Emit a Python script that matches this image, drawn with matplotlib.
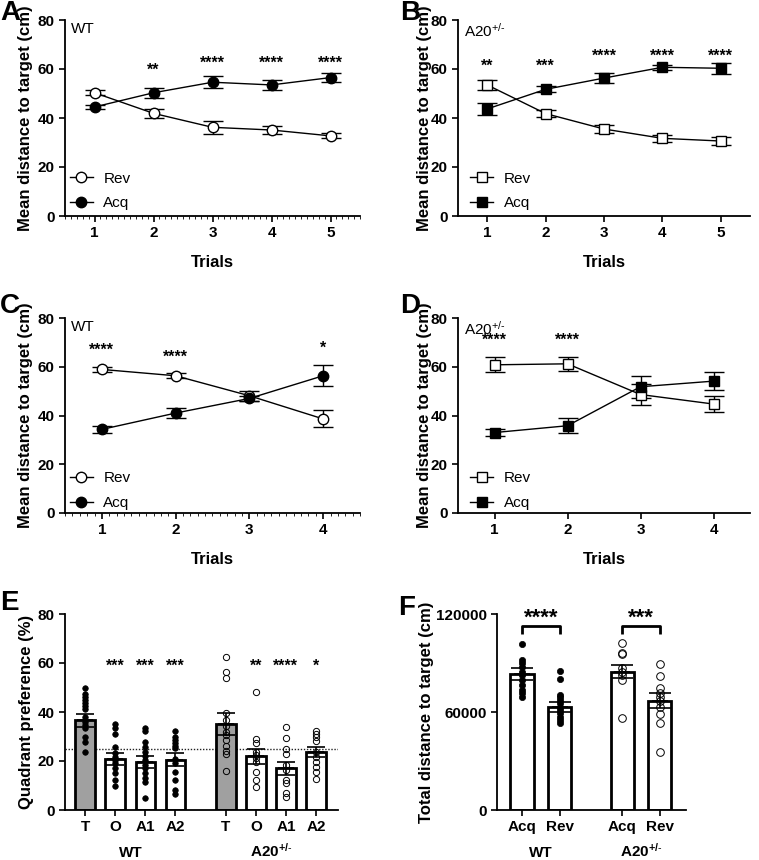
import matplotlib
matplotlib.use("Agg")
import matplotlib.pyplot as plt
import numpy as np

plt.rcParams['font.family'] = ['Liberation Sans', 'DejaVu Sans']
plt.rcParams['mathtext.fontset'] = 'custom'
plt.rcParams['mathtext.rm'] = 'Liberation Sans'
plt.rcParams['mathtext.bf'] = 'Liberation Sans:bold'
plt.rcParams['mathtext.it'] = 'Liberation Sans:italic'

# ---------------- data ----------------
trials5 = [1, 2, 3, 4, 5]
trials4 = [1, 2, 3, 4]

A_rev = [50.3, 41.9, 36.2, 35.1, 32.7]
A_rev_err = [1.0, 1.8, 2.6, 1.5, 1.0]
A_acq = [44.5, 50.3, 54.6, 53.5, 56.5]
A_acq_err = [1.0, 2.0, 2.5, 2.0, 1.8]
A_stars = ['', '**', '****', '****', '****']
A_star_y = [0, 59.6, 62.3, 62.3, 62.3]

B_rev = [53.5, 41.8, 35.5, 31.7, 30.6]
B_rev_err = [2.0, 1.5, 1.5, 1.5, 1.5]
B_acq = [43.7, 51.7, 56.3, 60.7, 60.3]
B_acq_err = [2.5, 1.2, 2.2, 1.0, 2.2]
B_stars = ['**', '***', '****', '****', '****']
B_star_y = [61.0, 61.0, 65.3, 65.3, 65.3]

C_rev = [58.9, 56.3, 48.1, 38.6]
C_rev_err = [1.0, 1.0, 2.0, 3.5]
C_acq = [34.3, 41.0, 47.0, 56.3]
C_acq_err = [1.5, 2.0, 1.0, 4.3]
C_stars = ['****', '****', '', '*']
C_star_y = [66.8, 63.8, 0, 67.5]

D_rev = [60.8, 61.2, 48.6, 44.7]
D_rev_err = [3.0, 3.0, 4.2, 3.3]
D_acq = [33.0, 35.8, 51.8, 54.1]
D_acq_err = [1.5, 3.0, 4.6, 3.6]
D_stars = ['****', '****', '', '']
D_star_y = [70.8, 70.8, 0, 0]

E_labels = ['T', 'O', 'A1', 'A2']
E_wt_mean = [36.6, 20.8, 19.5, 20.5]
E_wt_sem = [2.6, 2.6, 2.5, 2.6]
E_a20_mean = [35.1, 21.9, 17.0, 23.7]
E_a20_sem = [4.4, 3.0, 2.7, 2.2]
E_wt_pts = [
    [49.7, 47.3, 46.0, 44.9, 43.5, 42.4, 41.2, 38.1, 36.0, 34.7, 33.3, 29.9, 27.9, 23.5],
    [35.1, 33.3, 31.0, 25.8, 23.1, 21.5, 20.5, 19.0, 17.0, 15.0, 12.2, 9.8],
    [33.3, 32.2, 27.9, 25.8, 23.8, 22.0, 20.4, 18.4, 17.0, 15.0, 13.0, 11.6, 4.8],
    [32.2, 29.9, 28.6, 27.5, 26.3, 25.2, 21.0, 19.0, 15.6, 12.2, 8.2, 6.5],
]
E_a20_pts = [
    [62.6, 56.4, 54.0, 39.4, 36.7, 34.3, 32.0, 30.6, 28.6, 26.3, 24.2, 22.9, 15.9],
    [48.3, 28.8, 27.5, 23.8, 22.4, 21.1, 19.7, 15.4, 12.2, 9.3],
    [33.7, 29.5, 24.8, 22.8, 18.4, 16.3, 12.2, 10.9, 6.8, 5.4],
    [32.4, 31.0, 29.7, 28.3, 23.8, 21.8, 19.7, 17.7, 15.6, 12.7],
]
E_wt_stars = ['', '***', '***', '***']
E_a20_stars = ['', '**', '****', '*']
E_chance = 25

F_conds = ['Acq', 'Rev']
F_wt_mean = [83100, 63200]
F_wt_sem = [3700, 3000]
F_a20_mean = [84700, 66900]
F_a20_sem = [3900, 4500]
F_wt_pts = [
    [101440, 91837, 89796, 87755, 84694, 82653, 79592, 76531, 73469, 71429, 69388],
    [85306, 80204, 70408, 68980, 67347, 65306, 63265, 61224, 59184, 57143, 55102, 53061],
]
F_a20_pts = [
    [102041, 96327, 95306, 86735, 84694, 82653, 79592, 56122],
    [89184, 82245, 74490, 71837, 69388, 66735, 63265, 58571, 53469, 35306],
]
F_stars = ['****', '***']

A20_TXT = 'A20$^{+/\\text{-}}$'

# ---------------- figure ----------------
W, H = 759, 860
fig = plt.figure(figsize=(W / 100, H / 100), dpi=100)


def add_ax(l, r, t, b):
    return fig.add_axes([l / W, 1 - b / H, (r - l) / W, (b - t) / H])


def style(ax):
    for s in ['top', 'right']:
        ax.spines[s].set_visible(False)
    for s in ['left', 'bottom']:
        ax.spines[s].set_linewidth(1.3)
    ax.tick_params(axis='both', which='major', length=4, width=1.2,
                   labelsize=11, direction='out')
    for lab in ax.get_xticklabels() + ax.get_yticklabels():
        lab.set_fontweight('bold')


def line_panel(ax, x, rev, rev_err, acq, acq_err, stars, star_y, marker,
               title, xlim, minor, ylab_x, leg_x, leg_y):
    ax.errorbar(x, rev, yerr=rev_err, fmt='none', ecolor='black',
                elinewidth=1.0, capsize=7, capthick=1.0, zorder=2)
    ax.errorbar(x, acq, yerr=acq_err, fmt='none', ecolor='black',
                elinewidth=1.0, capsize=7, capthick=1.0, zorder=2)
    ax.plot(x, rev, color='black', lw=1.0, marker=marker, ms=7.5,
            mfc='white', mec='black', mew=1.0, zorder=3, label='Rev')
    ax.plot(x, acq, color='black', lw=1.0, marker=marker, ms=7.5,
            mfc='black', mec='black', mew=1.0, zorder=3, label='Acq')
    for xi, s, yy in zip(x, stars, star_y):
        if s:
            ax.text(xi, yy, s, ha='center', va='center', fontsize=11.5,
                    fontweight='bold')
    ax.set_ylim(0, 80)
    ax.set_yticks([0, 20, 40, 60, 80])
    ax.set_xlim(*xlim)
    ax.set_xticks(x)
    style(ax)
    if minor:
        ax.set_xticks(np.arange(xlim[0], xlim[1] + 0.001, 0.1), minor=True)
        ax.tick_params(axis='x', which='minor', length=2, width=0.6)
    ax.set_ylabel('Mean distance to target (cm)', fontsize=12,
                  fontweight='bold')
    ax.yaxis.set_label_coords(ylab_x, 0.5)
    ax.set_xlabel('Trials', fontsize=12, fontweight='bold')
    ax.xaxis.set_label_coords(0.5, -0.2)
    ax.text(0.02, 0.99, title, transform=ax.transAxes, ha='left',
            va='top', fontsize=11)
    ax.legend(loc='lower left', frameon=False, fontsize=11,
              handlelength=1.5, handletextpad=0.7,
              labelspacing=0.7, bbox_to_anchor=(leg_x, leg_y),
              borderaxespad=0.3)


axA = add_ax(65, 360, 20, 216)
line_panel(axA, trials5, A_rev, A_rev_err, A_acq, A_acq_err, A_stars,
           A_star_y, 'o', 'WT', (0.5, 5.5), True, -0.11, -0.02, -0.025)
axB = add_ax(458, 750, 20, 216)
line_panel(axB, trials5, B_rev, B_rev_err, B_acq, B_acq_err, B_stars,
           B_star_y, 's', A20_TXT, (0.5, 5.5), False, -0.09, 0.005, -0.025)
axC = add_ax(65, 360, 318, 513)
line_panel(axC, trials4, C_rev, C_rev_err, C_acq, C_acq_err, C_stars,
           C_star_y, 'o', 'WT', (0.5, 4.5), True, -0.11, -0.02, -0.04)
axD = add_ax(458, 750, 318, 513)
line_panel(axD, trials4, D_rev, D_rev_err, D_acq, D_acq_err, D_stars,
           D_star_y, 's', A20_TXT, (0.5, 4.5), False, -0.09, 0.005, -0.04)

# ---------------- panel E ----------------
axE = add_ax(65, 338, 614, 810)
gap = 4.67
posE_wt = np.arange(len(E_labels))
posE_a20 = posE_wt + gap
bw = 0.65
for pos, means, sems, pts, stars, filled in [
        (posE_wt, E_wt_mean, E_wt_sem, E_wt_pts, E_wt_stars, True),
        (posE_a20, E_a20_mean, E_a20_sem, E_a20_pts, E_a20_stars, False)]:
    colors = ['#a0a0a0'] + ['white'] * (len(means) - 1)
    axE.bar(pos, means, width=bw, color=colors, edgecolor='black',
            linewidth=2.0, zorder=2)
    for p, vals in zip(pos, pts):
        if filled:
            axE.plot([p] * len(vals), vals, 'o', ms=4, mfc='black',
                     mec='black', mew=0.5, zorder=3, ls='none')
        else:
            axE.plot([p] * len(vals), vals, 'o', ms=4.5, mfc='none',
                     mec='black', mew=0.7, zorder=3, ls='none')
    axE.errorbar(pos, means, yerr=sems, fmt='none', ecolor='black',
                 elinewidth=1.2, capsize=6.5, capthick=1.2, zorder=4)
    axE.plot(pos, means, ls='none', marker='_', ms=12, mew=1.2,
             color='black', zorder=4)
    for p, s in zip(pos, stars):
        if s:
            axE.text(p, 58.5, s, ha='center', va='center', fontsize=11.5,
                     fontweight='bold')
axE.axhline(E_chance, ls=(0, (1, 1.2)), color='#222222', lw=1.0, zorder=1)
axE.set_ylim(0, 80)
axE.set_yticks([0, 20, 40, 60, 80])
axE.set_xlim(-0.67, posE_a20[-1] + 0.73)
axE.set_xticks(list(posE_wt) + list(posE_a20))
axE.set_xticklabels(E_labels + E_labels)
style(axE)
axE.tick_params(axis='x', length=4, pad=3)
axE.set_ylabel('Quadrant preference (%)', fontsize=12, fontweight='bold')
axE.yaxis.set_label_coords(-0.115, 0.5)
axE.text(posE_wt.mean(), -0.24, 'WT', transform=axE.get_xaxis_transform(),
         ha='center', va='baseline', fontsize=11, fontweight='bold')
axE.text(posE_a20.mean(), -0.24, 'A20$^{\\mathbf{+/}\\text{-}}$',
         transform=axE.get_xaxis_transform(), ha='center', va='baseline',
         fontsize=11, fontweight='bold')

# ---------------- panel F ----------------
axF = add_ax(497, 686, 614, 810)
gapF = 2.68
posF_wt = np.arange(len(F_conds))
posF_a20 = posF_wt + gapF
bwF = 0.62
for pos, means, sems, pts, stars, filled in [
        (posF_wt, F_wt_mean, F_wt_sem, F_wt_pts, F_stars[0], True),
        (posF_a20, F_a20_mean, F_a20_sem, F_a20_pts, F_stars[1], False)]:
    axF.bar(pos, means, width=bwF, color='white', edgecolor='black',
            linewidth=2.0, zorder=2)
    for p, vals in zip(pos, pts):
        if filled:
            axF.plot([p] * len(vals), vals, 'o', ms=4.5, mfc='black',
                     mec='black', mew=0.5, zorder=3, ls='none')
        else:
            axF.plot([p] * len(vals), vals, 'o', ms=5.5, mfc='none',
                     mec='black', mew=0.7, zorder=3, ls='none')
    axF.errorbar(pos, means, yerr=sems, fmt='none', ecolor='black',
                 elinewidth=1.2, capsize=8, capthick=1.2, zorder=4)
    axF.plot(pos, means, ls='none', marker='_', ms=12, mew=1.2,
             color='black', zorder=4)
    top = 112500
    leg_low = 107500
    axF.plot([pos[0], pos[0], pos[1], pos[1]], [leg_low, top, top, leg_low],
             color='black', lw=2.0, zorder=5, solid_capstyle='butt')
    axF.text(pos.mean(), 117500, stars, ha='center', va='center',
             fontsize=16, fontweight='bold')
axF.set_ylim(0, 120000)
axF.set_yticks([0, 60000, 120000])
axF.set_xlim(-0.67, posF_a20[-1] + 0.7)
axF.set_xticks(list(posF_wt) + list(posF_a20))
axF.set_xticklabels(F_conds + F_conds)
style(axF)
axF.set_ylabel('Total distance to target (cm)', fontsize=12,
               fontweight='bold')
axF.yaxis.set_label_coords(-0.335, 0.5)
axF.text(posF_wt.mean(), -0.24, 'WT', transform=axF.get_xaxis_transform(),
         ha='center', va='baseline', fontsize=11, fontweight='bold')
axF.text(posF_a20.mean(), -0.24, 'A20$^{\\mathbf{+/}\\text{-}}$',
         transform=axF.get_xaxis_transform(), ha='center', va='baseline',
         fontsize=11, fontweight='bold')

# ---------------- panel letters ----------------
for letter, x, y in [('A', 0, 0), ('B', 400, 0), ('C', 0, 293),
                     ('D', 400, 293), ('E', 0, 590), ('F', 398, 595)]:
    fig.text(x / W, 1 - y / H, letter, ha='left', va='top', fontsize=20,
             fontweight='bold')

fig.savefig('out.png', dpi=100)
